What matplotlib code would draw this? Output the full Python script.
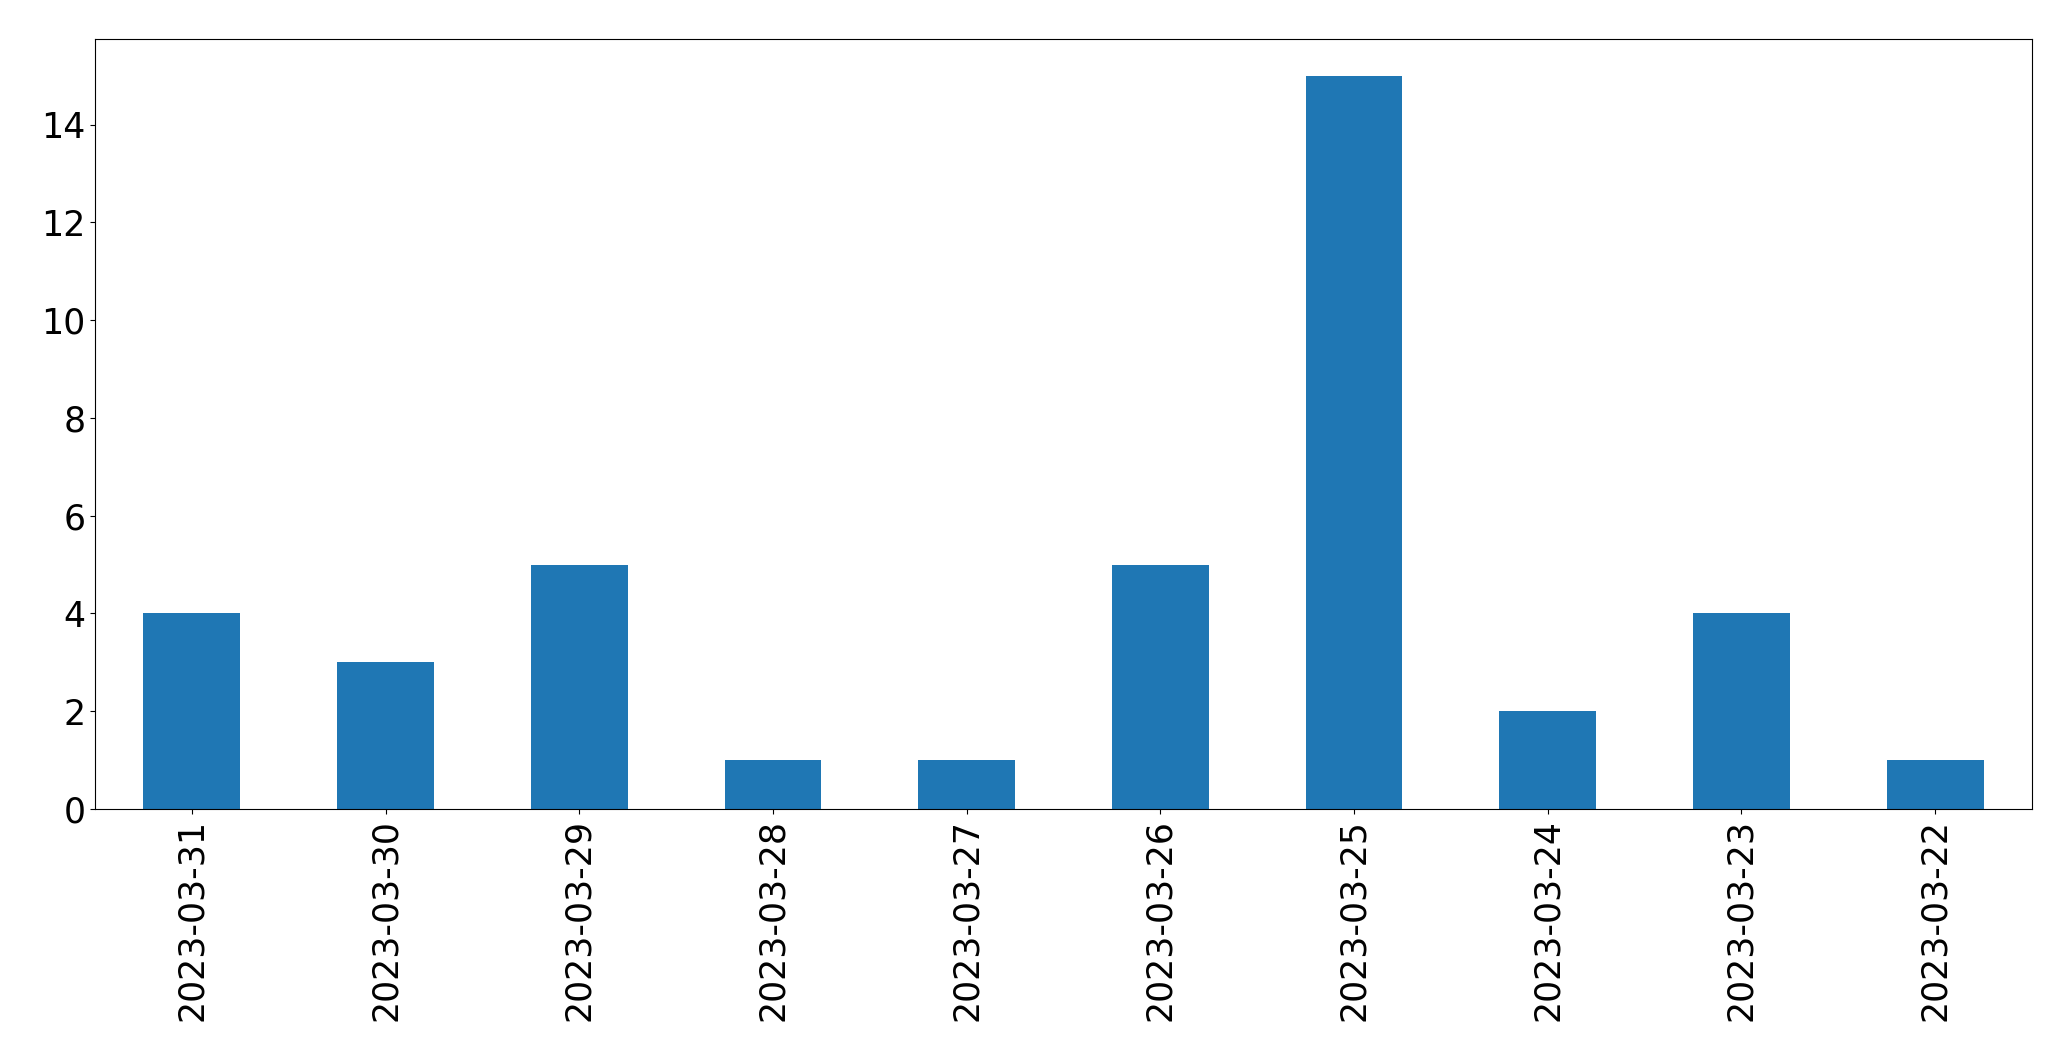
import matplotlib
matplotlib.use("Agg")
import matplotlib.pyplot as plt
import pandas as pd

dates = ["2023-03-31", "2023-03-30", "2023-03-29", "2023-03-28", "2023-03-27",
         "2023-03-26", "2023-03-25", "2023-03-24", "2023-03-23", "2023-03-22"]
counts = [4, 3, 5, 1, 1, 5, 15, 2, 4, 1]

W, H = 2071, 1061
fig = plt.figure(figsize=(W / 100, H / 100), dpi=100)
ax = fig.add_axes([95 / W, 1 - 809 / H, (2032 - 95) / W, (809 - 39) / H])

s = pd.Series(counts, index=dates)
s.plot(kind="bar", ax=ax, color="#1f77b4", fontsize=25)
ax.tick_params(axis="x", labelrotation=90)

fig.savefig("out.png", dpi=100)
